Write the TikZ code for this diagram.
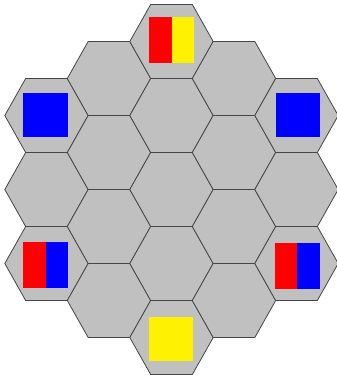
\documentclass[tikz,border=0pt]{standalone}
\definecolor{boardgray}{RGB}{192,192,192}
\definecolor{edgegray}{RGB}{70,70,70}
\tikzset{cell/.style={fill=boardgray,draw=edgegray,line width=.8pt,line join=round}}
\begin{document}
\begin{tikzpicture}[x=1pt,y=-1pt]
\useasboundingbox (0,0) rectangle (337,380);
% board: 5 columns of 3,4,5,4,3 cells
\foreach \c/\n in {0/3,1/4,2/5,3/4,4/3}{\foreach \k in {1,...,\n}{
\path[cell] ({46.5+62.5*\c-41.7},{189.5-(\n-1)*37+(\k-1)*74}) -- ++(20.85,-37) -- ++(41.7,0) -- ++(20.85,37) -- ++(-20.85,37) -- ++(-41.7,0) -- cycle;}}
% one-colour pieces
\foreach \x/\y/\col in {23.3/92.7/blue,276/92.7/blue,149/316.7/yellow}{\fill[\col] (\x,\y) rectangle ++(44.3,44.5);}
% two-colour pieces
\foreach \x/\y/\a/\b in {149/17.3/red/yellow,23/242.3/red/blue,274.7/243/red/blue}{\fill[\a] (\x,\y) rectangle ++(22.6,45.8);\fill[\b] (\x+22.6,\y) rectangle ++(22.6,45.8);}
\end{tikzpicture}
\end{document}
